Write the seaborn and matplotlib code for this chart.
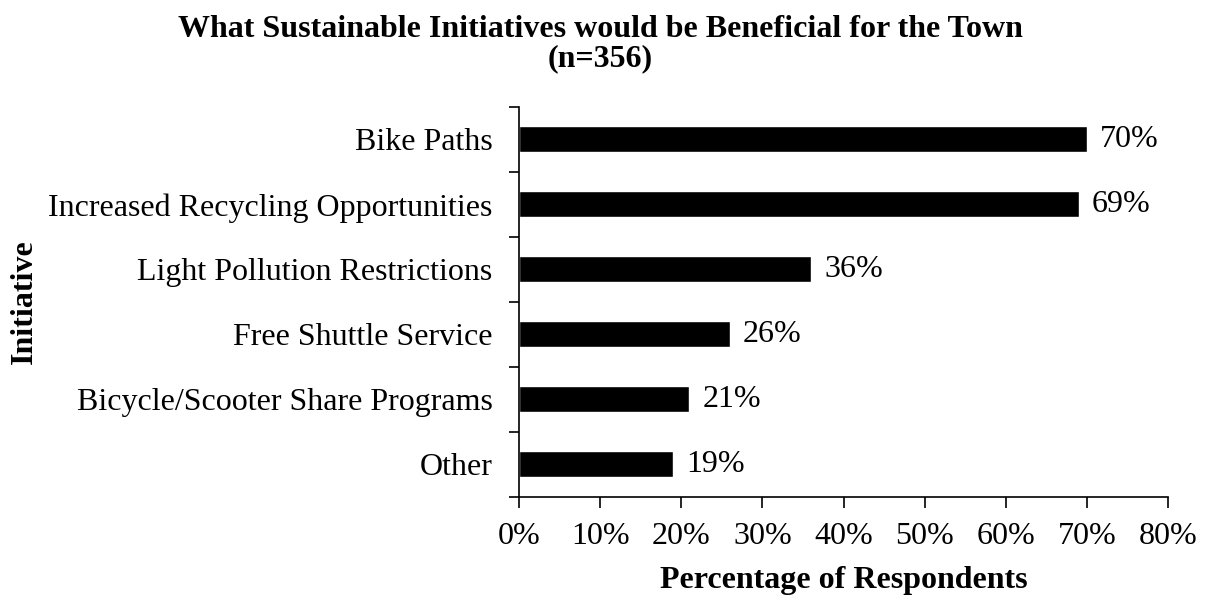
import matplotlib
matplotlib.use("Agg")
import matplotlib.pyplot as plt
from matplotlib.ticker import FixedLocator, PercentFormatter
import numpy as np
import pandas as pd
import seaborn as sns

initiatives = [
    "Bike Paths",
    "Increased Recycling Opportunities",
    "Light Pollution Restrictions",
    "Free Shuttle Service",
    "Bicycle/Scooter Share Programs",
    "Other",
]
percentages = [70, 69, 36, 26, 21, 19]
x_ticks = [0, 10, 20, 30, 40, 50, 60, 70, 80]

sns.set_theme(style="white")
plt.rcParams["font.family"] = ["Liberation Serif", "DejaVu Serif"]
plt.rcParams["text.color"] = "black"
plt.rcParams["axes.labelcolor"] = "black"
plt.rcParams["xtick.color"] = "black"
plt.rcParams["ytick.color"] = "black"

df = pd.DataFrame({"Initiative": initiatives, "Percent": percentages})

fig = plt.figure(figsize=(12.08, 5.99), dpi=100)
ax = fig.add_axes([0.4296, 0.1703, 0.5374, 0.6511])

sns.barplot(data=df, x="Percent", y="Initiative", orient="h", color="black",
            width=0.4, saturation=1, ax=ax)

ax.set_xlim(0, 80)
ax.set_ylim(len(initiatives) - 0.5, -0.5)
ax.xaxis.set_major_locator(FixedLocator(x_ticks))
ax.xaxis.set_major_formatter(PercentFormatter(decimals=0))

# category boundaries carry the tick marks on the vertical axis
ax.yaxis.set_minor_locator(FixedLocator(np.arange(-0.5, len(initiatives), 1.0)))
ax.tick_params(axis="y", which="major", length=0, pad=19, labelsize=23)
ax.tick_params(axis="y", which="minor", left=True, length=7, width=1.2, direction="out")
ax.tick_params(axis="x", which="major", bottom=True, length=8, width=1.2,
               direction="out", labelsize=23, pad=10)

for side in ["top", "right"]:
    ax.spines[side].set_visible(False)
for side in ["left", "bottom"]:
    ax.spines[side].set_color("black")
    ax.spines[side].set_linewidth(1.2)

for i, v in enumerate(percentages):
    ax.text(v + 1.6, i, f"{v}%", va="center", ha="left", fontsize=23, color="black")

ax.set_xlabel("Percentage of Respondents", fontsize=23, fontweight="bold", labelpad=11)
ax.set_ylabel("Initiative", fontsize=23, fontweight="bold")
ax.yaxis.set_label_coords(-0.739, 0.5)

fig.suptitle("What Sustainable Initiatives would be Beneficial for the Town\n(n=356)",
             x=0.497, y=0.975, fontsize=23, fontweight="bold", linespacing=1.0)

fig.savefig("out.png", dpi=100, facecolor="white")
